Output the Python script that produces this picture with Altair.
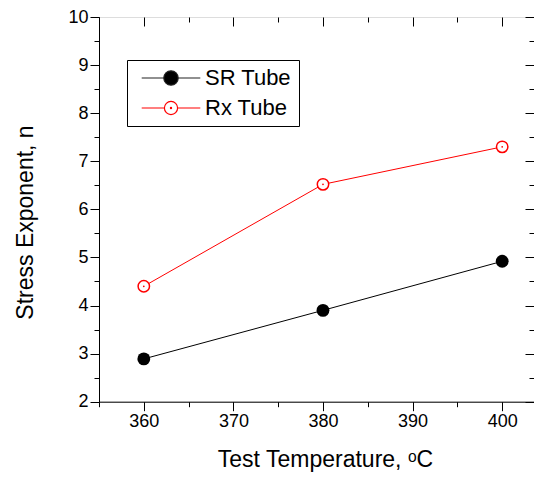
import altair as alt
import pandas as pd

temps = [360, 380, 400]
sr_values = [2.89, 3.90, 4.92]
rx_values = [4.40, 6.52, 7.30]
series_names = ["SR Tube", "Rx Tube"]

x_major = [360, 370, 380, 390, 400]
x_minor = [355, 365, 375, 385, 395]
y_major = [2, 3, 4, 5, 6, 7, 8, 9, 10]
y_minor = [2.5, 3.5, 4.5, 5.5, 6.5, 7.5, 8.5, 9.5]

rows = []
for t, v in zip(temps, sr_values):
    rows.append({"temp": t, "n": v, "series": "SR Tube"})
for t, v in zip(temps, rx_values):
    rows.append({"temp": t, "n": v, "series": "Rx Tube"})
df = pd.DataFrame(rows)

FONT = "Liberation Sans"


def circ(r, cx=0.0, cy=0.0):
    k = 0.5523 * r
    return (f"M{cx + r},{cy}"
            f"C{cx + r},{cy + k} {cx + k},{cy + r} {cx},{cy + r}"
            f"C{cx - k},{cy + r} {cx - r},{cy + k} {cx - r},{cy}"
            f"C{cx - r},{cy - k} {cx - k},{cy - r} {cx},{cy - r}"
            f"C{cx + k},{cy - r} {cx + r},{cy - k} {cx + r},{cy}Z")


L = 2.93
R1 = 0.72
R2 = 0.66
sr_path = f"M{-L},0L{-R1},0M{R1},0L{L},0" + circ(R1)
rx_path = f"M{-L},0L{-R2},0M{R2},0L{L},0" + circ(R2) + circ(0.06)

xscale = alt.Scale(domain=[355, 403.55], nice=False, zero=False)
yscale = alt.Scale(domain=[2, 10], nice=False, zero=False)

base = alt.Chart(df)
X = alt.X("temp:Q", scale=xscale, axis=None)
Y = alt.Y("n:Q", scale=yscale, axis=None)


def ax(values, orient, size, offset=0, labels=False, domain=False, title=None, **kw):
    args = dict(values=values, orient=orient, tickSize=size, tickColor="black",
                tickWidth=1, labels=labels, domain=domain, grid=False,
                offset=offset, title=title)
    args.update(kw)
    return alt.Axis(**args)


def axis_layer(xa, ya):
    return base.mark_point(opacity=0).encode(
        x=alt.X("temp:Q", scale=xscale, axis=xa),
        y=alt.Y("n:Q", scale=yscale, axis=ya),
    )


x_main = ax(x_major, "bottom", 9, labels=True, domain=True,
            title="Test Temperature, ᵒC",
            labelFont=FONT, labelFontSize=18, labelColor="black", labelPadding=2,
            domainColor="black", domainWidth=1,
            titleFont=FONT, titleFontSize=23, titleFontWeight="normal",
            titleColor="black", titleBaseline="alphabetic", titleY=65, titleX=226)
y_main = ax(y_major, "left", 9, labels=True, domain=True,
            title="Stress Exponent, n",
            labelFont=FONT, labelFontSize=18, labelColor="black", labelPadding=2,
            domainColor="black", domainWidth=1,
            titleFont=FONT, titleFontSize=23, titleFontWeight="normal",
            titleColor="black", titleBaseline="alphabetic", titleX=-67, titleY=205)

layers = [
    axis_layer(x_main, y_main),
    axis_layer(ax(x_minor, "bottom", 5), ax(y_minor, "left", 5)),
    axis_layer(ax(x_major, "top", 9, offset=-9), ax(y_major, "right", 9, offset=-9)),
    axis_layer(ax(x_minor, "top", 5, offset=-5), ax(y_minor, "right", 5, offset=-5)),
]

stroke_scale = alt.Scale(domain=series_names, range=["#222222", "red"])
fill_scale = alt.Scale(domain=series_names, range=["black", "white"])
shape_scale = alt.Scale(domain=series_names, range=[sr_path, rx_path])

sr = base.transform_filter(alt.datum.series == "SR Tube")
rx = base.transform_filter(alt.datum.series == "Rx Tube")

sr_line = sr.mark_line(strokeWidth=1, color="black").encode(x=X, y=Y)
rx_line = rx.mark_line(strokeWidth=1, color="red").encode(x=X, y=Y)

sr_pts = sr.mark_point(filled=True, size=165, shape="circle", color="black",
                       opacity=1).encode(x=X, y=Y)
rx_pts = rx.mark_point(filled=False, size=130, shape="circle", color="red",
                       strokeWidth=1.5, fill="white", fillOpacity=1,
                       opacity=1).encode(x=X, y=Y)
rx_dot = rx.mark_point(filled=True, size=3, shape="circle", color="red",
                       opacity=1).encode(x=X, y=Y)

leg = alt.Legend(title=None, orient="none", legendX=28, legendY=43,
                 labelFont=FONT, labelFontSize=22, labelColor="black",
                 symbolSize=400, symbolStrokeWidth=1.2, symbolOffset=26,
                 labelOffset=23, padding=7, rowPadding=8,
                 strokeColor="black")

legend_layer = base.mark_point(size=400, strokeWidth=1.2, fillOpacity=0,
                               strokeOpacity=0).encode(
    x=X, y=Y,
    shape=alt.Shape("series:N", scale=shape_scale, legend=leg),
    stroke=alt.Stroke("series:N", scale=stroke_scale, legend=leg),
    fill=alt.Fill("series:N", scale=fill_scale, legend=leg),
)

chart = alt.layer(
    *layers, sr_line, rx_line, sr_pts, rx_pts, rx_dot, legend_layer
).resolve_axis(
    x="independent", y="independent"
).properties(
    width=435, height=384.7,
    padding={"left": 91, "top": 9, "right": 0, "bottom": 70.3},
    autosize=alt.AutoSizeParams(type="none"),
).configure_view(
    stroke="black", strokeWidth=1
).configure_legend(
    symbolOpacity=1, symbolFillColor="white"
).configure(
    background="white"
)

chart.save("out.html", embed_options={"renderer": "svg", "actions": False})
